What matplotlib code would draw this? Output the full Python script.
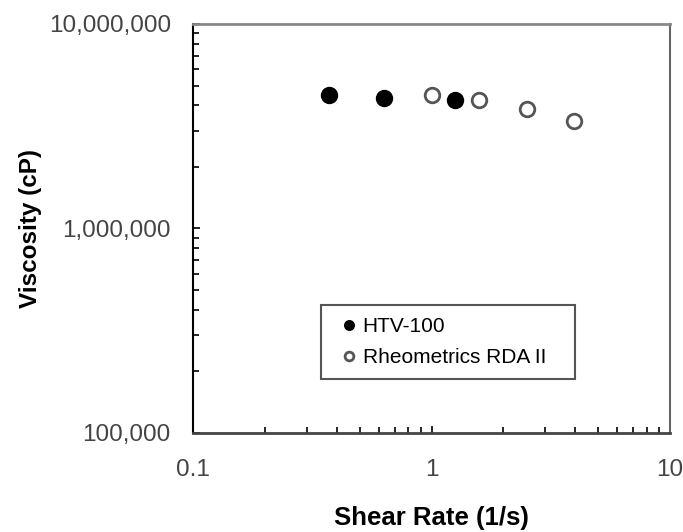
import matplotlib
matplotlib.use("Agg")
import matplotlib.pyplot as plt
from matplotlib.ticker import FuncFormatter, LogLocator, NullFormatter

plt.rcParams['font.family'] = ['Liberation Sans', 'DejaVu Sans']

# HTV-100 (filled)
htv_rate = [0.37, 0.63, 1.25]
htv_visc = [4.49e6, 4.37e6, 4.27e6]
# Rheometrics RDA II (open)
rda_rate = [1.0, 1.58, 2.51, 3.95]
rda_visc = [4.49e6, 4.27e6, 3.82e6, 3.35e6]

fig = plt.figure(figsize=(6.83, 5.32), dpi=100)
ax = fig.add_axes([0.2826, 0.1861, 0.6984, 0.7688])

ax.plot(htv_rate, htv_visc, 'o', ms=11.5, mfc='black', mec='black', mew=1.0,
        ls='none', label='HTV-100')
ax.plot(rda_rate, rda_visc, 'o', ms=10.5, mfc='white', mec='#555555', mew=2.0,
        ls='none', label='Rheometrics RDA II')

ax.set_xscale('log')
ax.set_yscale('log')
ax.set_xlim(0.1, 10)
ax.set_ylim(1e5, 1e7)

ax.xaxis.set_major_locator(LogLocator(base=10))
ax.yaxis.set_major_locator(LogLocator(base=10))
ax.xaxis.set_minor_locator(LogLocator(base=10, subs=range(2, 10)))
ax.yaxis.set_minor_locator(LogLocator(base=10, subs=range(2, 10)))
ax.xaxis.set_minor_formatter(NullFormatter())
ax.yaxis.set_minor_formatter(NullFormatter())
ax.xaxis.set_major_formatter(FuncFormatter(lambda v, p: '%g' % v))
ax.yaxis.set_major_formatter(FuncFormatter(lambda v, p: '{:,.0f}'.format(v)))

ax.tick_params(which='both', direction='in', top=False, right=False,
               labelsize=17.5, labelcolor='#444444', color='black')
ax.tick_params(axis='x', which='both', pad=19)
ax.tick_params(axis='y', which='both', pad=16)
ax.tick_params(which='major', length=5, width=1.2)
ax.tick_params(which='minor', length=4, width=1.2)

ax.spines['left'].set_color('black')
ax.spines['left'].set_linewidth(1.5)
ax.spines['bottom'].set_color('#444444')
ax.spines['bottom'].set_linewidth(2)
ax.spines['top'].set_color('#888888')
ax.spines['top'].set_linewidth(2)
ax.spines['right'].set_color('#666666')
ax.spines['right'].set_linewidth(1.5)

ax.set_xlabel('Shear Rate (1/s)', fontsize=18.5, fontweight='bold', labelpad=18)
ax.set_ylabel('Viscosity (cP)', fontsize=17.5, fontweight='bold', labelpad=5)

leg = ax.legend(loc='upper left', bbox_to_anchor=(0.268, 0.132, 0.533, 0.18),
                mode='expand', fontsize=15,
                markerscale=0.6, handlelength=1.6, handletextpad=-0.15,
                labelspacing=0.6, borderpad=0.55, borderaxespad=0,
                fancybox=False, framealpha=1, edgecolor='#555555')
leg.get_frame().set_linewidth(1.5)

fig.savefig('out.png', dpi=100)
